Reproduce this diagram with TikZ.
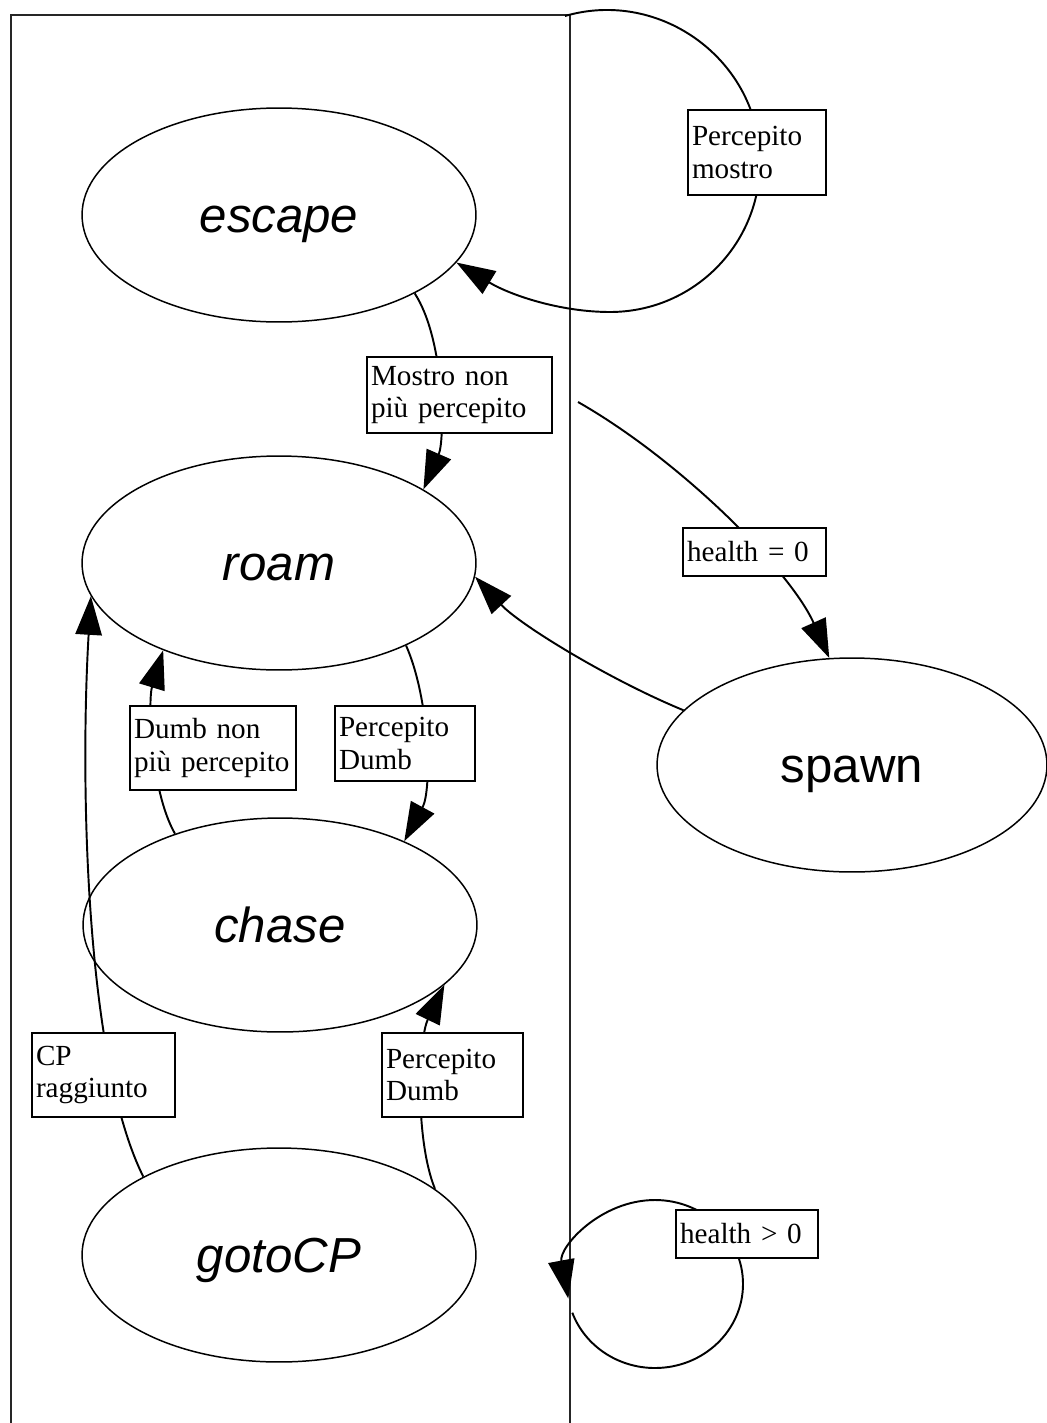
\documentclass[tikz,border=0pt]{standalone}
\usepackage{fontspec}
\setmainfont{Liberation Serif}
\newfontfamily\sansf{Liberation Sans}
\usetikzlibrary{shapes.geometric,arrows.meta}
\newcommand\lblfnt{\fontsize{16.6pt}{18.4pt}\selectfont}
\newcommand\stfnt{\sansf\fontsize{28pt}{30pt}\selectfont}
\begin{document}
\begin{tikzpicture}[x=0.02cm,y=-0.02cm,
  state/.style={ellipse, draw, line width=0.85pt, minimum width=7.88cm, minimum height=4.28cm,
    inner sep=0pt, font=\stfnt, text height=25pt, text depth=5pt},
  lbl/.style={draw, line width=1.1pt, fill=white, inner xsep=0.08cm, inner ysep=0pt,
    align=left, font=\lblfnt},
  conn/.style={line width=1.1pt, -{Triangle[length=22pt,width=15pt]}},
  clusterline/.style={line width=1.1pt, black!85}]
\useasboundingbox (0,0) rectangle (1046,1423);
% cluster frame
\draw[clusterline] (11,1423) -- (11,15) -- (570,15) -- (570,1423);
\coordinate (ctop) at (565,16);
\coordinate (cright) at (578,402);
\coordinate (hl1) at (572.3,1312.7);
\coordinate (hl2) at (568.3,1298.6);
% states
\node[state] (escape) at (279,215) {\itshape escape};
\node[state] (roam) at (279,563) {\itshape roam};
\node[state] (chase) at (280,925) {\itshape chase};
\node[state] (gotoCP) at (279,1255) {\itshape gotoCP};
\node[state, minimum width=7.8cm] (spawn) at (852,765) {spawn};
% connectors
\draw[conn] (ctop) .. controls (661,-12) and (760,61) .. (760,162)
  .. controls (760,245) and (693,312) .. (610,312)
  .. controls (560,312) and (510,295) .. (escape.-15);
\draw[conn] (escape.-30) .. controls (445,340) and (445,440) .. (roam.27);
\draw[conn] (cright) .. controls (680,460) and (790,570) .. (spawn.102);
\draw[conn] (spawn.162) .. controls (610,680) and (520,625) .. (roam.-4);
\draw[conn] (roam.-33) .. controls (430,700) and (432,790) .. (chase.34);
\draw[conn] (chase.139) .. controls (150,790) and (148,700) .. (roam.217);
\draw[conn] (gotoCP.150) .. controls (85,1060) and (80,780) .. (roam.190);
\draw[conn] (gotoCP.23) .. controls (415,1140) and (418,1040) .. (chase.-20);
\draw[conn] (hl1) .. controls (585,1346) and (618,1368) .. (655,1368)
  .. controls (703.6,1368) and (743,1330.4) .. (743,1284)
  .. controls (743,1237.6) and (703.6,1200) .. (655,1200)
  .. controls (600.3,1200) and (558.8,1247.2) .. (hl2);
% labels
\node[lbl, text width=2.6cm, minimum height=1.7cm] (lPm) at (757,152.5) {Percepito\\mostro};
\node[lbl, text width=3.54cm, minimum height=1.52cm] (lMn) at (459.5,395) {Mostro non\\più percepito};
\node[lbl, text width=2.7cm, minimum height=0.96cm] (lH0) at (754.5,552) {health = 0};
\node[lbl, text width=2.64cm, minimum height=1.5cm] (lPD1) at (405,743.5) {Percepito\\Dumb};
\node[lbl, text width=3.16cm, minimum height=1.68cm] (lDN) at (213,748) {Dumb non\\più percepito};
\node[lbl, text width=2.7cm, minimum height=1.68cm] (lCP) at (103.5,1075) {CP\\raggiunto};
\node[lbl, text width=2.66cm, minimum height=1.68cm] (lPD2) at (452.5,1075) {Percepito\\Dumb};
\node[lbl, text width=2.68cm, minimum height=0.96cm] (lHG) at (747,1234) {health > 0};
\end{tikzpicture}
\end{document}
